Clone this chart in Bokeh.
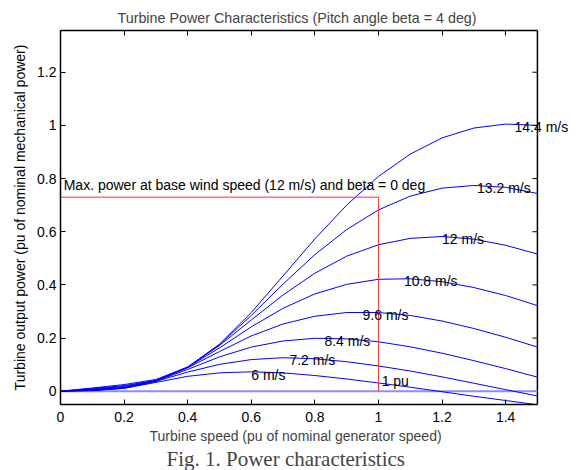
from bokeh.plotting import figure
from bokeh.models import Range1d, LinearAxis, FixedTicker, CustomJSTickFormatter, Title, ColumnDataSource, LabelSet, Label
from bokeh.embed import file_html
from bokeh.resources import INLINE
from bokeh.core.properties import value

# Turbine speed (pu of nominal generator speed)
omega = [0.0, 0.1, 0.2, 0.3, 0.4, 0.5, 0.6, 0.7, 0.8, 0.9, 1.0, 1.1, 1.2, 1.3, 1.4, 1.5]

# Turbine output power (pu) for each wind speed
p_6_0 = [0, 0.002, 0.011, 0.033, 0.056, 0.069, 0.073, 0.069, 0.059, 0.046, 0.031, 0.015, -0.002, -0.019, -0.035, -0.051]
p_7_2 = [0, 0.003, 0.011, 0.037, 0.072, 0.101, 0.119, 0.126, 0.122, 0.111, 0.095, 0.076, 0.054, 0.030, 0.006, -0.018]
p_8_4 = [0, 0.004, 0.012, 0.038, 0.082, 0.129, 0.166, 0.189, 0.199, 0.197, 0.186, 0.167, 0.143, 0.115, 0.085, 0.053]
p_9_6 = [0, 0.005, 0.013, 0.039, 0.088, 0.149, 0.208, 0.253, 0.282, 0.296, 0.296, 0.285, 0.264, 0.236, 0.203, 0.166]
p_10_8 = [0, 0.007, 0.015, 0.038, 0.090, 0.163, 0.242, 0.312, 0.366, 0.402, 0.421, 0.423, 0.412, 0.390, 0.360, 0.322]
p_12_0 = [0, 0.008, 0.018, 0.039, 0.091, 0.172, 0.268, 0.362, 0.444, 0.508, 0.551, 0.575, 0.582, 0.572, 0.549, 0.516]
p_13_2 = [0, 0.010, 0.021, 0.041, 0.090, 0.175, 0.285, 0.403, 0.514, 0.608, 0.682, 0.734, 0.764, 0.774, 0.767, 0.744]
p_14_4 = [0, 0.012, 0.025, 0.044, 0.091, 0.177, 0.296, 0.434, 0.573, 0.700, 0.808, 0.892, 0.953, 0.990, 1.005, 1.000]

wind_labels = ["6 m/s", "7.2 m/s", "8.4 m/s", "9.6 m/s", "10.8 m/s", "12 m/s", "13.2 m/s", "14.4 m/s"]
label_x = [0.60, 0.72, 0.83, 0.95, 1.08, 1.20, 1.31, 1.428]
label_y = [0.062, 0.116, 0.189, 0.287, 0.414, 0.572, 0.765, 0.995]

# Max power point at base wind speed, beta = 0
max_speed = [0.0, 1.0, 1.0]
max_power = [0.73, 0.73, 0.0]

xticks = [0, 0.2, 0.4, 0.6, 0.8, 1.0, 1.2, 1.4]
yticks = [0, 0.2, 0.4, 0.6, 0.8, 1.0, 1.2]

X_MIN, X_MAX = 0.0, 1.5
Y_MIN, Y_MAX = -0.05, 1.357

FONT = "Liberation Sans"

# frame extended to the right so that the "14.4 m/s" label may pass over the right axis
p = figure(width=577, height=470, output_backend="svg", toolbar_location=None,
           x_range=Range1d(X_MIN, 1.604), y_range=Range1d(Y_MIN, Y_MAX),
           min_border_left=60, min_border_right=7, min_border_top=30, min_border_bottom=66)
p.outline_line_color = None
p.grid.visible = False
p.background_fill_color = "white"
p.border_fill_color = "white"

p.title.text = "Turbine Power Characteristics (Pitch angle beta = 4 deg)"
p.title.align = "left"
p.title.offset = 57
p.title.text_font = FONT
p.title.text_font_size = "14.3px"
p.title.text_font_style = "normal"
p.title.standoff = 9

fmt = CustomJSTickFormatter(code="return (Math.round(tick*10)/10).toString();")
blank = CustomJSTickFormatter(code="return '';")

for ax, ticks in ((p.xaxis[0], xticks), (p.yaxis[0], yticks)):
    ax.ticker = FixedTicker(ticks=ticks)
    ax.formatter = fmt
    ax.major_tick_in = 5
    ax.major_tick_out = 0
    ax.minor_tick_line_color = None
    ax.axis_line_width = 1.5
    ax.major_label_text_font = FONT
    ax.major_label_text_font_size = "14px"
    ax.major_label_text_color = "black"
    ax.axis_label_text_font = FONT
    ax.axis_label_text_font_size = "14px"
    ax.axis_label_text_font_style = "normal"
    ax.axis_label_text_color = "black"

p.xaxis.bounds = (X_MIN, X_MAX)
p.xaxis.major_label_standoff = 7
p.yaxis.major_label_standoff = 4
p.yaxis.axis_label = "Turbine output power (pu of nominal mechanical power)"
p.yaxis.axis_label_standoff = 6

top_ax = LinearAxis(ticker=FixedTicker(ticks=xticks), formatter=blank, bounds=(X_MIN, X_MAX),
                    major_label_standoff=0, major_tick_in=5, major_tick_out=0,
                    minor_tick_line_color=None, axis_line_width=1.5)
p.add_layout(top_ax, "above")

# right-hand box edge with inward ticks
tick_len = 5 / 318.0
p.line([X_MAX, X_MAX], [Y_MIN, Y_MAX], line_color="black", line_width=1.5)
p.segment(x0=[X_MAX] * len(yticks), y0=yticks, x1=[X_MAX - tick_len] * len(yticks), y1=yticks,
          line_color="black", line_width=1)

# x axis title and caption, placed under the axis
p.add_layout(Title(text="Turbine speed (pu of nominal generator speed)", align="left", offset=89,
                   text_font=FONT, text_font_size="14px", text_font_style="normal",
                   standoff=2), "below")
p.add_layout(Title(text="Fig. 1. Power characteristics", align="left", offset=106,
                   text_font="Liberation Serif", text_font_size="21px",
                   text_font_style="normal", standoff=0), "below")

# zero line
p.line([X_MIN, X_MAX], [0, 0], line_color="#8c8cff", line_width=2)

series = [p_6_0, p_7_2, p_8_4, p_9_6, p_10_8, p_12_0, p_13_2, p_14_4]
for s in series:
    p.line(omega, s, line_color="#0000ff", line_width=1)

# max power lines
p.line(max_speed, max_power, line_color="#ff3030", line_width=1)

src = ColumnDataSource(dict(x=label_x, y=label_y, t=wind_labels))
p.add_layout(LabelSet(x="x", y="y", text="t", source=src, text_font=value(FONT),
                      text_font_size=value("14px"), text_color="black",
                      text_align="left", text_baseline="middle"))

p.add_layout(Label(x=0.01, y=0.775, text="Max. power at base wind speed (12 m/s) and beta = 0 deg",
                   text_font=FONT, text_font_size="14px", text_color="black",
                   text_align="left", text_baseline="middle"))
p.add_layout(Label(x=1.01, y=0.04, text="1 pu", text_font=FONT, text_font_size="14px",
                   text_color="black", text_align="left", text_baseline="middle"))

open("out.html", "w").write(file_html(p, INLINE))
